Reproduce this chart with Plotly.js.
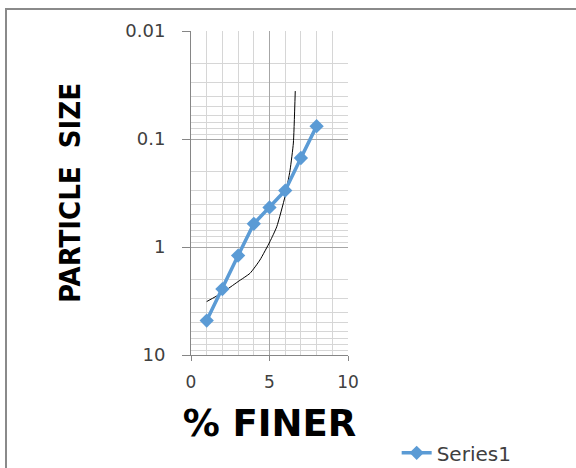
<!DOCTYPE html>
<html>
<head>
<meta charset="utf-8">
<script src="https://cdn.plot.ly/plotly-3.0.1.min.js"></script>
<style>
  html, body { margin: 0; padding: 0; background: #fff; }
  #wrap { position: relative; width: 576px; height: 468px; overflow: hidden; }
  #chart { width: 576px; height: 468px; }
  #frame { position: absolute; left: 5px; top: 8px; width: 620px; height: 520px;
           border-top: 2px solid #8a8a8a; border-left: 2px solid #8a8a8a; pointer-events: none; }
</style>
</head>
<body>
<div id="wrap"><div id="chart"></div><div id="frame"></div></div>
<script>
// Series1 data (% finer vs particle size)
const percentFiner = [1, 2, 3, 4, 5, 6, 7, 8];
const particleSize = [4.8, 2.45, 1.2, 0.61, 0.43, 0.30, 0.15, 0.076];

// thin black curve
const curveX = [1.0, 1.96, 3.0, 3.76, 4.39, 5.03, 5.46, 5.99, 6.31, 6.52, 6.64];
const curveY = [3.2, 2.67, 2.09, 1.75, 1.32, 0.89, 0.65, 0.34, 0.194, 0.109, 0.036];

// axis tick labels
const yTickVals = [0.01, 0.1, 1, 10];
const yTickText = ['0.01', '0.1', '1', '10'];
const xTickVals = [0, 5, 10];
const xTickText = ['0', '5', '10'];

// minor gridline positions (2..9 within each decade)
const yMinor = [];
[0.01, 0.1, 1].forEach(d => { for (let k = 2; k <= 9; k++) yMinor.push(+(d * k).toPrecision(3)); });

const traces = [
  {
    x: curveX, y: curveY, type: 'scatter', mode: 'lines',
    line: { color: '#000000', width: 1, shape: 'spline', smoothing: 0.5 },
    showlegend: false, hoverinfo: 'skip'
  },
  {
    x: percentFiner, y: particleSize, type: 'scatter', mode: 'lines+markers',
    name: 'Series1',
    line: { color: '#5b9bd5', width: 3.5 },
    marker: { symbol: 'diamond', size: 11, color: '#5b9bd5' }
  }
];

const layout = {
  width: 576, height: 468,
  margin: { l: 191, r: 228, t: 31, b: 113, autoexpand: false },
  paper_bgcolor: '#ffffff', plot_bgcolor: '#ffffff',
  showlegend: true,
  legend: {
    x: 1.31, y: -0.302, xanchor: 'left', yanchor: 'middle',
    font: { family: 'DejaVu Sans, sans-serif', size: 20, color: '#404040' },
    bgcolor: 'rgba(0,0,0,0)'
  },
  xaxis: {
    range: [0, 10], tickmode: 'array', tickvals: xTickVals, ticktext: xTickText,
    automargin: false,
    showline: true, linecolor: '#868686', linewidth: 1, mirror: false,
    ticks: 'outside', ticklen: 5, tickcolor: '#868686',
    showgrid: true, gridcolor: '#a6a6a6', gridwidth: 1, zeroline: false,
    minor: { dtick: 1, showgrid: true, gridcolor: '#d6d6d6', gridwidth: 1, ticks: '' },
    tickfont: { family: 'DejaVu Sans, sans-serif', size: 17, color: '#404040' },
    ticklabelstandoff: 7,
    title: { text: '% FINER', standoff: 18,
             font: { family: 'DejaVu Sans, sans-serif', size: 37, color: '#000000', weight: 'bold' } }
  },
  yaxis: {
    type: 'log', range: [1, -2],
    tickmode: 'array', tickvals: yTickVals, ticktext: yTickText,
    automargin: false,
    showline: true, linecolor: '#868686', linewidth: 1,
    ticks: 'outside', ticklen: 8, tickcolor: '#868686',
    showgrid: true, gridcolor: '#a6a6a6', gridwidth: 1, zeroline: false,
    minor: { tickmode: 'array', tickvals: yMinor, showgrid: true, gridcolor: '#d6d6d6', gridwidth: 1, ticks: '' },
    tickfont: { family: 'DejaVu Sans, sans-serif', size: 18, color: '#404040' },
    ticklabelstandoff: 13,
    title: { text: 'PARTICLE  SIZE', standoff: 36,
             font: { family: 'DejaVu Sans Condensed, DejaVu Sans, sans-serif', size: 29, color: '#000000', weight: 'bold' } }
  }
};

Plotly.newPlot('chart', traces, layout, { displayModeBar: false, staticPlot: true });
</script>
</body>
</html>
